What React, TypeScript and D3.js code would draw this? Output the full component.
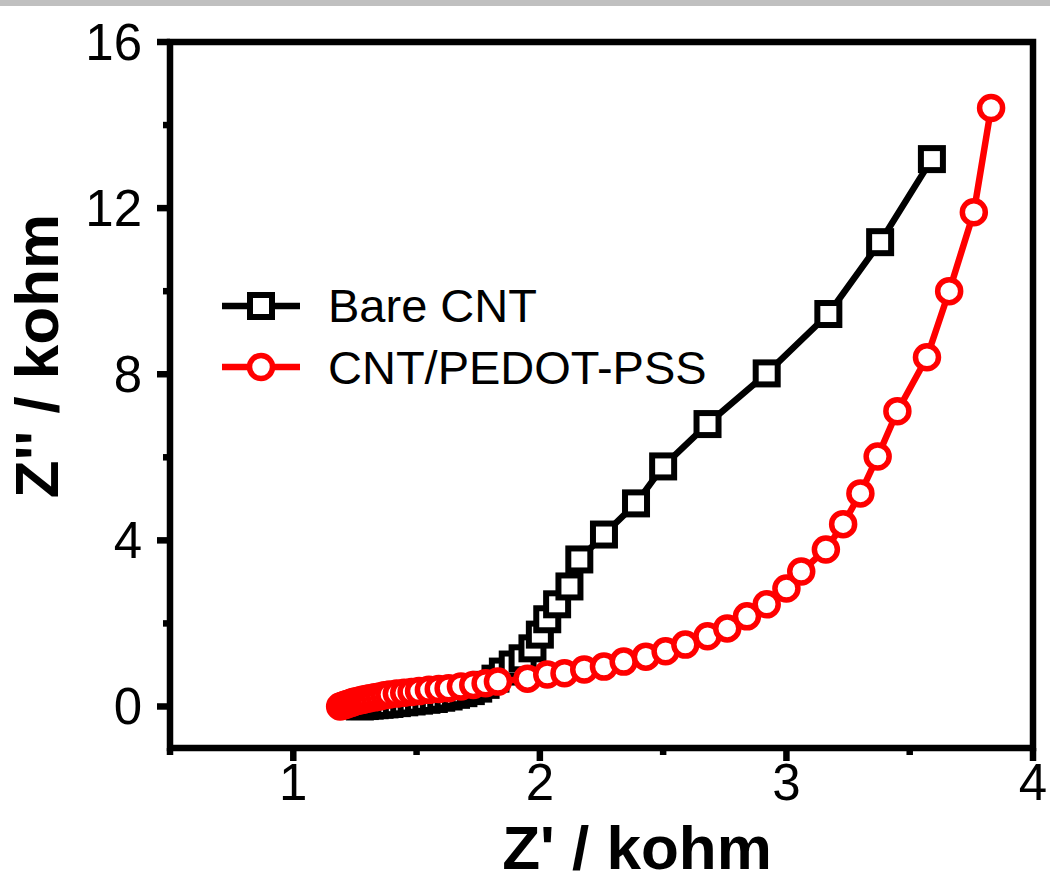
import React from "react";
import * as d3 from "d3";

// Nyquist plot: Z' vs Z'' (kohm) for two electrodes
const bareX = [1.27, 1.29, 1.31, 1.33, 1.35, 1.37, 1.39, 1.42, 1.45, 1.48, 1.51, 1.54, 1.57, 1.6, 1.63, 1.66, 1.69, 1.72, 1.75, 1.78, 1.82, 1.85, 1.89, 1.93, 1.97, 2.0, 2.03, 2.07, 2.12, 2.16, 2.26, 2.39, 2.5, 2.68, 2.92, 3.17, 3.38, 3.59];
const bareY = [0.0, 0.01, 0.02, 0.03, 0.04, 0.05, 0.06, 0.08, 0.1, 0.12, 0.14, 0.16, 0.18, 0.21, 0.24, 0.28, 0.32, 0.37, 0.43, 0.52, 0.67, 0.84, 1.01, 1.16, 1.4, 1.73, 2.1, 2.46, 2.89, 3.54, 4.14, 4.89, 5.78, 6.8, 8.02, 9.45, 11.18, 13.18];

const pedotX = [1.19, 1.2, 1.21, 1.22, 1.23, 1.24, 1.25, 1.265, 1.28, 1.295, 1.31, 1.33, 1.35, 1.37, 1.39, 1.42, 1.45, 1.48, 1.51, 1.55, 1.59, 1.63, 1.68, 1.73, 1.78, 1.83, 1.95, 2.03, 2.1, 2.18, 2.26, 2.34, 2.43, 2.51, 2.59, 2.68, 2.76, 2.84, 2.92, 3.0, 3.06, 3.16, 3.23, 3.3, 3.37, 3.45, 3.57, 3.66, 3.76, 3.83];
const pedotY = [0.0, 0.02, 0.04, 0.06, 0.08, 0.1, 0.12, 0.14, 0.16, 0.18, 0.2, 0.22, 0.24, 0.27, 0.29, 0.31, 0.33, 0.35, 0.37, 0.4, 0.42, 0.44, 0.48, 0.52, 0.56, 0.6, 0.67, 0.77, 0.8, 0.89, 0.96, 1.08, 1.2, 1.33, 1.49, 1.69, 1.88, 2.17, 2.46, 2.84, 3.25, 3.78, 4.39, 5.13, 6.02, 7.11, 8.41, 10.0, 11.9, 14.41];

const xMajor = [1, 2, 3, 4];
const xMinor = [0.5, 1.5, 2.5, 3.5];
const yMajor = [0, 4, 8, 12, 16];
const yMinor = [2, 6, 10, 14];

const seriesNames = ["Bare CNT", "CNT/PEDOT-PSS"];

const W = 1050;
const H = 891;
const FONT = "'Liberation Sans', Arial, Helvetica, sans-serif";

export default function App() {
  const x = d3.scaleLinear().domain([0.5, 4]).range([170, 1033]);
  const y = d3.scaleLinear().domain([-1, 16]).range([748, 42]);

  const line = d3
    .line<[number, number]>()
    .x((d) => x(d[0]))
    .y((d) => y(d[1]));

  const bare: [number, number][] = bareX.map((v, i) => [v, bareY[i]]);
  const pedot: [number, number][] = pedotX.map((v, i) => [v, pedotY[i]]);

  const sq = 22;
  const r = 11.5;

  return (
    <svg
      width={W}
      height={H}
      style={{ position: "absolute", left: 0, top: 0, background: "#fff" }}
      fontFamily={FONT}
    >
      <rect x={0} y={0} width={W} height={H} fill="#fff" />
      <rect x={0} y={0} width={W} height={6} fill="#c0c0c0" />

      {/* Bare CNT */}
      <path d={line(bare) || ""} fill="none" stroke="#000" strokeWidth={6.5} strokeLinejoin="round" />
      {bare.map((d, i) => (
        <rect
          key={"b" + i}
          x={x(d[0]) - sq / 2}
          y={y(d[1]) - sq / 2}
          width={sq}
          height={sq}
          fill="#fff"
          stroke="#000"
          strokeWidth={6}
        />
      ))}

      {/* CNT/PEDOT-PSS */}
      <path d={line(pedot) || ""} fill="none" stroke="#ff0000" strokeWidth={6.5} strokeLinejoin="round" />
      {pedot.map((d, i) => (
        <circle
          key={"p" + i}
          cx={x(d[0])}
          cy={y(d[1])}
          r={r}
          fill="#fff"
          stroke="#ff0000"
          strokeWidth={5.5}
        />
      ))}

      {/* frame */}
      <rect
        x={x(0.5)}
        y={y(16)}
        width={x(4) - x(0.5)}
        height={y(-1) - y(16)}
        fill="none"
        stroke="#000"
        strokeWidth={6.5}
      />

      {/* x ticks */}
      {xMajor.map((t) => (
        <g key={"xt" + t}>
          <line x1={x(t)} x2={x(t)} y1={y(-1)} y2={y(-1) + 13} stroke="#000" strokeWidth={6.5} />
          <text x={x(t)} y={800} textAnchor="middle" fontSize={51} fill="#000">
            {t}
          </text>
        </g>
      ))}
      {xMinor.map((t) => (
        <line key={"xm" + t} x1={x(t)} x2={x(t)} y1={y(-1)} y2={y(-1) + 7} stroke="#000" strokeWidth={6.5} />
      ))}

      {/* y ticks */}
      {yMajor.map((t) => (
        <g key={"yt" + t}>
          <line x1={x(0.5) - 13} x2={x(0.5)} y1={y(t)} y2={y(t)} stroke="#000" strokeWidth={6.5} />
          <text x={142} y={y(t) + 18} textAnchor="end" fontSize={51} fill="#000">
            {t}
          </text>
        </g>
      ))}
      {yMinor.map((t) => (
        <line key={"ym" + t} x1={x(0.5) - 7} x2={x(0.5)} y1={y(t)} y2={y(t)} stroke="#000" strokeWidth={6.5} />
      ))}

      {/* axis titles */}
      <text x={637} y={869} textAnchor="middle" fontSize={62} fontWeight="bold" fill="#000">
        Z' / kohm
      </text>
      <text
        transform={`translate(58, 356) rotate(-90)`}
        textAnchor="middle"
        fontSize={62}
        fontWeight="bold"
        fill="#000"
      >
        Z'' / kohm
      </text>

      {/* legend */}
      <g>
        <line x1={222} x2={300} y1={306} y2={306} stroke="#000" strokeWidth={6.5} />
        <rect x={261 - sq / 2} y={306 - sq / 2} width={sq} height={sq} fill="#fff" stroke="#000" strokeWidth={6} />
        <text x={328} y={322} fontSize={47} fill="#000">
          {seriesNames[0]}
        </text>
        <line x1={222} x2={300} y1={367} y2={367} stroke="#ff0000" strokeWidth={6.5} />
        <circle cx={261} cy={367} r={r} fill="#fff" stroke="#ff0000" strokeWidth={5.5} />
        <text x={328} y={384} fontSize={47} fill="#000">
          {seriesNames[1]}
        </text>
      </g>
    </svg>
  );
}
